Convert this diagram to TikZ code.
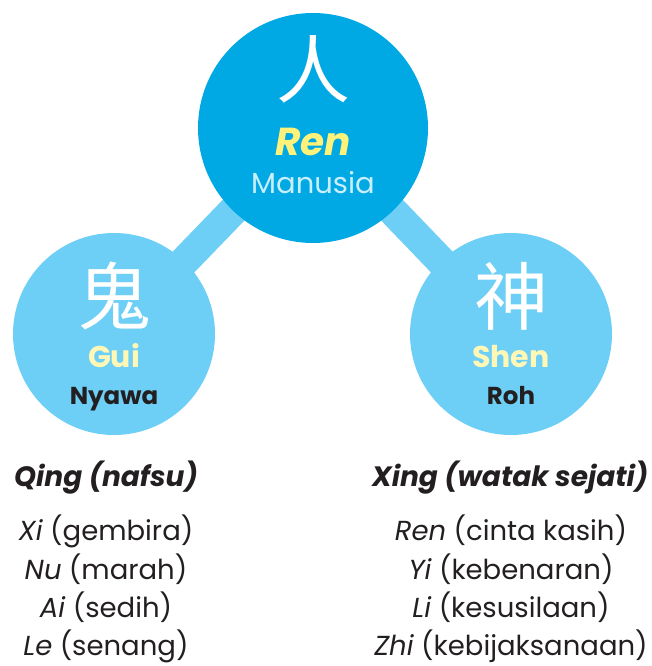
\documentclass[tikz,border=0pt]{standalone}
\usepackage{fontspec}
\setmainfont{Poppins}
\newfontfamily\cjk{Noto Sans CJK SC}
\usepackage{xcolor}
\usetikzlibrary{positioning,backgrounds}
\definecolor{RNBlue}{HTML}{00A9E3}
\definecolor{RNSky}{HTML}{6DCFF6}
\definecolor{RNYellow}{HTML}{FFF27A}
\definecolor{RNCream}{HTML}{FFF7B5}
\definecolor{RNPale}{HTML}{C9EEFC}
\definecolor{RNInk}{HTML}{231F20}

\begin{document}
\begin{tikzpicture}[x=1pt,y=-1pt,
  bigcirc/.style={circle,fill=RNBlue,inner sep=0pt,minimum size=230pt},
  smallcirc/.style={circle,fill=RNSky,inner sep=0pt,minimum size=202pt},
  link/.style={line width=30pt,draw=RNSky},
  hanzi/.style={font=\cjk\fontsize{74}{74}\selectfont,text=white,inner sep=0pt},
  romlbl/.style={font=\fontsize{30}{30}\selectfont\bfseries,anchor=base,inner sep=0pt},
  sublbl/.style={font=\fontsize{24.5}{24.5}\selectfont\bfseries,text=RNInk,anchor=base,inner sep=0pt},
  listhead/.style={font=\fontsize{28}{28}\selectfont\bfseries\itshape,text=RNInk,anchor=base,inner sep=0pt},
  listitem/.style={font=\fontsize{27.5}{27.5}\selectfont,text=RNInk,anchor=base,inner sep=0pt}
]
\useasboundingbox (0,0) rectangle (652,666);

% circles
\node[bigcirc] (ren) at (313,128) {};
\node[smallcirc] (gui) at (114,334) {};
\node[smallcirc] (shen) at (511,334) {};

\begin{scope}[on background layer]
\draw[link] (ren.center) -- (gui.center);
\draw[link] (ren.center) -- (shen.center);
\end{scope}

% texts in circles
\node[hanzi] (renhz) at (313,69) {人};
\node[romlbl,text=RNYellow,font=\fontsize{39}{39}\selectfont\bfseries\itshape] (renlbl) at (313,155) {Ren};
\node[romlbl,text=RNPale,font=\fontsize{29}{29}\selectfont] (renname) at (313,193) {Manusia};

\node[hanzi] (guihz) at (114,296) {鬼};
\node[romlbl,text=RNCream] (guilbl) at (114,367) {Gui};
\node[sublbl] (guiname) at (114,404) {Nyawa};

\node[hanzi] (shenhz) at (511,296) {神};
\node[romlbl,text=RNCream] (shenlbl) at (511,367) {Shen};
\node[sublbl] (shenname) at (511,404) {Roh};

% lists
\node[listhead] (qing) at (106,486) {Qing (nafsu)};
\node[listitem] (xi) at (106,540) {\textit{Xi} (gembira)};
\node[listitem] (nu) at (106,579) {\textit{Nu} (marah)};
\node[listitem] (ai) at (106,617) {\textit{Ai} (sedih)};
\node[listitem] (le) at (106,655) {\textit{Le} (senang)};

\node[listhead] (xing) at (510,486) {Xing (watak sejati)};
\node[listitem] (ren2) at (511,540) {\textit{Ren} (cinta kasih)};
\node[listitem] (yi) at (511,579) {\textit{Yi} (kebenaran)};
\node[listitem] (li) at (511,617) {\textit{Li} (kesusilaan)};
\node[listitem] (zhi) at (511,655) {\textit{Zhi} (kebijaksanaan)};
\end{tikzpicture}
\end{document}
